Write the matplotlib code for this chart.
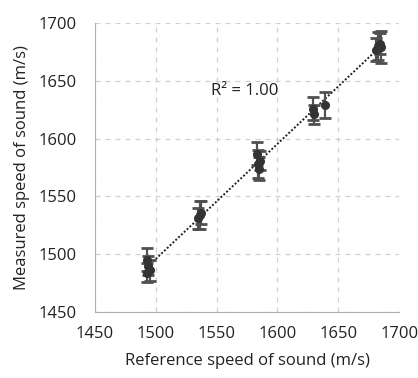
import numpy as np
import matplotlib.pyplot as plt

plt.rcParams['font.family'] = ['Open Sans', 'DejaVu Sans']

# reference vs measured speed of sound (m/s)
ref = [1493, 1494, 1495, 1493, 1535, 1536, 1537,
       1583, 1584, 1585, 1586, 1629, 1630, 1639,
       1681, 1683, 1684, 1685]
meas = [1495, 1490, 1486, 1484, 1531, 1534, 1536,
        1587, 1578, 1574, 1581, 1626, 1621, 1629,
        1677, 1680, 1682, 1679]
err = [10, 8, 9, 8, 9, 12, 10,
       10, 12, 10, 8, 10, 8, 11,
       10, 12, 9, 14]
ticks = [1450, 1500, 1550, 1600, 1650, 1700]

fig = plt.figure(figsize=(4.18, 3.78), dpi=100)
ax = fig.add_axes([0.227, 0.175, 0.728, 0.764])

ax.errorbar(ref, meas, yerr=err, fmt='o', color='#333333', ecolor='#505050',
            markersize=5.5, elinewidth=1.6, capsize=4, capthick=2, zorder=3)

k, b = np.polyfit(ref, meas, 1)
xs = np.array([min(ref), max(ref)])
ax.plot(xs, k * xs + b, linestyle=(0, (1, 1)), color='#222222', linewidth=1.4, zorder=2)

ax.text(1545, 1638, 'R² = 1.00', fontsize=12, color='#222222')

ax.set_xlim(1450, 1700)
ax.set_ylim(1450, 1700)
ax.set_xticks(ticks)
ax.set_yticks(ticks)
ax.tick_params(axis='y', labelsize=12, length=0, pad=13, colors='#222222')
ax.tick_params(axis='x', labelsize=12, length=0, pad=10, colors='#222222')
ax.grid(True, linestyle=(0, (4, 4)), color='#d0d0d0', linewidth=0.9)
ax.set_axisbelow(True)
for s in ['top', 'right']:
    ax.spines[s].set_visible(False)
for s in ['left', 'bottom']:
    ax.spines[s].set_color('#b0b0b0')

ax.set_xlabel('Reference speed of sound (m/s)', fontsize=12, labelpad=8, color='#222222')
ax.set_ylabel('Measured speed of sound (m/s)', fontsize=12, labelpad=6, color='#222222')

plt.savefig('out.png', dpi=100)
